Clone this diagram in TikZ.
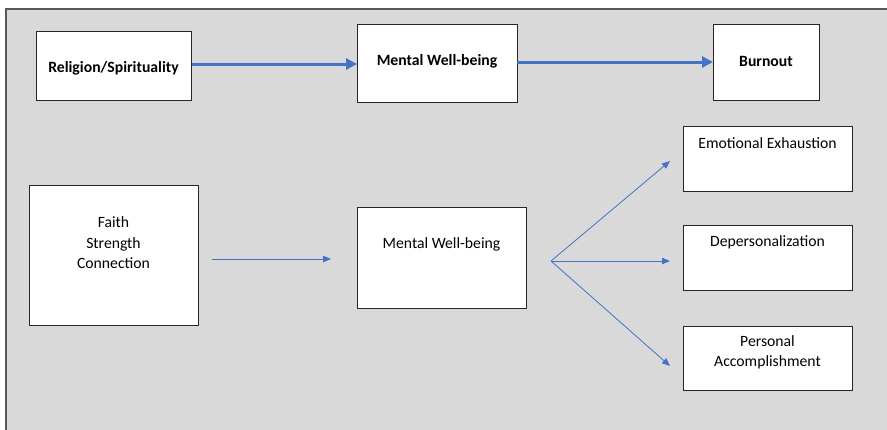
\documentclass[tikz,border=0pt]{standalone}
\usepackage{fontspec}
\setmainfont{Carlito}
\usetikzlibrary{arrows.meta}
\definecolor{bgfill}{HTML}{D9D9D9}
\definecolor{bgline}{HTML}{595959}
\definecolor{arrowblue}{HTML}{4472C4}
\begin{document}
\begin{tikzpicture}[x=1pt,y=-1pt,
  box/.style={draw=black!85,line width=1pt,fill=white,rectangle,inner sep=0pt},
  txt/.style={font=\fontsize{15.7}{20.5}\selectfont,align=center,inner sep=0pt},
  btxt/.style={font=\fontsize{15.7}{19}\selectfont\bfseries,align=center,inner sep=0pt},
  thick arrow/.style={draw=arrowblue,line width=3pt,-{Triangle[length=11pt,width=11pt]}},
  thin arrow/.style={draw=arrowblue,line width=0.8pt,-{Triangle[length=8pt,width=6.5pt]}}]
\useasboundingbox (0,0) rectangle (887,429);
\fill[bgfill] (6,9) rectangle (895,440);
\draw[bgline,line width=1.6pt] (6,440) -- (6,9) -- (895,9);

% top row
\node[box,minimum width=155pt,minimum height=69pt] (rel) at (113.5,65.5) {};
\node[btxt] (relt) at (113.5,68) {Religion/Spirituality};
\node[box,minimum width=160pt,minimum height=78pt] (mw1) at (437,63) {};
\node[btxt] (mw1t) at (437,61) {Mental Well-being};
\node[box,minimum width=106pt,minimum height=76pt] (bo) at (766,62) {};
\node[btxt] (bot) at (766,61) {Burnout};

\coordinate (a1s) at (192,64);
\coordinate (a1e) at (357,64);
\draw[thick arrow] (a1s) -- (a1e);
\coordinate (a2s) at (517,62);
\coordinate (a2e) at (713,62);
\draw[thick arrow] (a2s) -- (a2e);

% bottom row
\node[box,minimum width=169pt,minimum height=140pt] (fa) at (113.5,255) {};
\node[txt] (fat) at (113.5,243) {Faith\\Strength\\Connection};
\node[box,minimum width=169pt,minimum height=101pt] (mw2) at (441.5,257.5) {};
\node[txt] (mw2t) at (441.5,244) {Mental Well-being};
\node[box,minimum width=169pt,minimum height=65pt] (ee) at (767.5,158.5) {};
\node[txt] (eet) at (767.5,143) {Emotional Exhaustion};
\node[box,minimum width=169pt,minimum height=65pt] (dp) at (767.5,257.5) {};
\node[txt] (dpt) at (767.5,242) {Depersonalization};
\node[box,minimum width=169pt,minimum height=64pt] (pa) at (767.5,358) {};
\node[txt] (pat) at (767.5,352.5) {Personal\\Accomplishment};

\coordinate (b1s) at (212,259);
\coordinate (b1e) at (331,259);
\draw[thin arrow] (b1s) -- (b1e);
\coordinate (fan) at (551,261);
\coordinate (f1) at (670,161);
\coordinate (f2) at (670,261);
\coordinate (f3) at (670,366);
\draw[thin arrow] (fan) -- (f1);
\draw[thin arrow] (fan) -- (f2);
\draw[thin arrow] (fan) -- (f3);
\end{tikzpicture}
\end{document}
